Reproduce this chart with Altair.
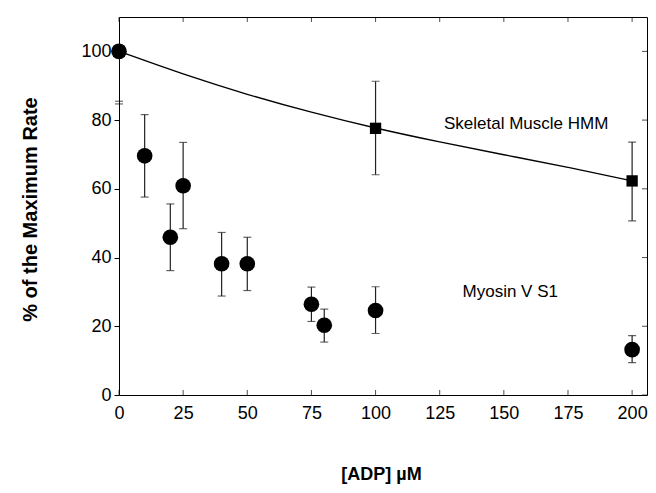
import altair as alt
import pandas as pd

# Myosin V S1 (circles)
myo_x = [0, 10, 20, 25, 40, 50, 75, 80, 100, 200]
myo_y = [100, 69.6, 45.9, 60.9, 38.2, 38.2, 26.4, 20.3, 24.6, 13.2]
myo_lo = [None, 57.6, 36.2, 48.4, 28.8, 30.4, 21.4, 15.4, 17.9, 9.4]
myo_hi = [None, 81.6, 55.6, 73.5, 47.3, 45.9, 31.4, 25.0, 31.5, 17.3]

# Skeletal Muscle HMM (squares)
hmm_x = [0, 100, 200]
hmm_y = [100, 77.6, 62.3]
hmm_lo = [None, 64.1, 50.7]
hmm_hi = [None, 91.3, 73.6]

# fitted curve through the HMM data
curve_x = [0, 25, 50, 75, 100, 125, 150, 175, 200]
curve_y = [100, 93.3, 87.4, 82.2, 77.6, 73.6, 69.9, 66.3, 62.3]

# axis-break marks on the y axis
break_y = [85.5, 84.7]

label_text = ["Skeletal Muscle HMM", "Myosin V S1"]
label_x = [158.7, 152.5]
label_y = [78.8, 29.9]

x_ticks = [0, 25, 50, 75, 100, 125, 150, 175, 200]
y_ticks = [0, 20, 40, 60, 80, 100]

X_MAX = 205.8
Y_MAX = 110

FONT = "Liberation Sans"

myo = pd.DataFrame({"x": myo_x, "y": myo_y, "lo": myo_lo, "hi": myo_hi})
hmm = pd.DataFrame({"x": hmm_x, "y": hmm_y, "lo": hmm_lo, "hi": hmm_hi})
err = pd.concat([myo, hmm]).dropna()
curve = pd.DataFrame({"x": curve_x, "y": curve_y})
brk = pd.DataFrame({"x": [0] * len(break_y), "y": break_y})
labels = pd.DataFrame({"t": label_text, "x": label_x, "y": label_y})
xt_bottom = pd.DataFrame({"x": x_ticks, "y": [0] * len(x_ticks)})
xt_top = pd.DataFrame({"x": x_ticks, "y": [Y_MAX] * len(x_ticks)})
yt_right = pd.DataFrame({"x": [X_MAX] * len(y_ticks), "y": y_ticks})

xs = alt.Scale(domain=[0, X_MAX], nice=False, zero=False)
ys = alt.Scale(domain=[0, Y_MAX], nice=False, zero=False)

X0 = alt.X("x:Q", scale=xs, axis=None)
Y0 = alt.Y("y:Q", scale=ys, axis=None)

main_x_axis = alt.Axis(
    orient="bottom", values=x_ticks, domain=False, ticks=False, tickSize=0,
    labelPadding=9, labelFontSize=18, labelFont=FONT, labelColor="black",
    labelFlush=False,
    title="[ADP] µM", titleFont=FONT, titleFontSize=18, titleFontWeight="bold",
    titleColor="black", titleX=262, titleY=84, titleBaseline="alphabetic",
    grid=False,
)
main_y_axis = alt.Axis(
    orient="left", values=y_ticks, domain=False, ticks=True, tickSize=5,
    tickColor="black", labelPadding=3, labelFontSize=18, labelFont=FONT,
    labelColor="black", labelFlush=False,
    title="% of the Maximum Rate", titleFont=FONT, titleFontSize=20,
    titleFontWeight="bold", titleColor="black", titleX=-83, titleY=192,
    titleBaseline="alphabetic", titleAngle=270, titleAlign="center",
    grid=False,
)

circles = alt.Chart(myo).mark_point(
    shape="circle", filled=True, size=245, color="black", opacity=1
).encode(
    x=alt.X("x:Q", scale=xs, axis=main_x_axis),
    y=alt.Y("y:Q", scale=ys, axis=main_y_axis),
)

# inward ticks on bottom, top and right frame edges
ticks_bottom = alt.Chart(xt_bottom).mark_tick(
    color="black", orient="vertical", size=5, thickness=1, yOffset=-2.5
).encode(x=X0, y=Y0)
ticks_top = alt.Chart(xt_top).mark_tick(
    color="black", orient="vertical", size=5, thickness=1, yOffset=2.5
).encode(x=X0, y=Y0)
ticks_right = alt.Chart(yt_right).mark_tick(
    color="black", orient="horizontal", size=5, thickness=1, xOffset=-2.5
).encode(x=X0, y=Y0)

line = alt.Chart(curve).mark_line(
    color="black", strokeWidth=1.3, interpolate="basis"
).encode(x=X0, y=Y0)

rules = alt.Chart(err).mark_rule(color="#222", strokeWidth=1.2).encode(
    x=X0, y=alt.Y("lo:Q", scale=ys, axis=None), y2="hi:Q"
)
caps_hi = alt.Chart(err).mark_tick(
    color="#222", orient="horizontal", size=8, thickness=1.2
).encode(x=X0, y=alt.Y("hi:Q", scale=ys, axis=None))
caps_lo = alt.Chart(err).mark_tick(
    color="#222", orient="horizontal", size=8, thickness=1.2
).encode(x=X0, y=alt.Y("lo:Q", scale=ys, axis=None))

squares = alt.Chart(hmm).mark_point(
    shape="square", filled=True, size=128, color="black", opacity=1
).encode(x=X0, y=Y0)

breaks = alt.Chart(brk).mark_tick(
    color="black", orient="horizontal", size=8, thickness=1
).encode(x=X0, y=Y0)

texts = alt.Chart(labels).mark_text(
    font=FONT, fontSize=17, color="black", align="center", baseline="middle"
).encode(x=X0, y=Y0, text="t:N")

chart = alt.layer(
    ticks_bottom, ticks_top, ticks_right, line, rules, caps_hi, caps_lo,
    squares, circles, breaks, texts
).resolve_axis(
    x="independent", y="independent"
).properties(
    width=528, height=378,
    autosize=alt.AutoSizeParams(type="none"),
    padding={"left": 111, "top": 9, "right": 1, "bottom": 90},
    background="white",
).configure_view(
    stroke="black", strokeWidth=1
)

chart.save("out.html", embed_options={"renderer": "svg", "actions": False})
